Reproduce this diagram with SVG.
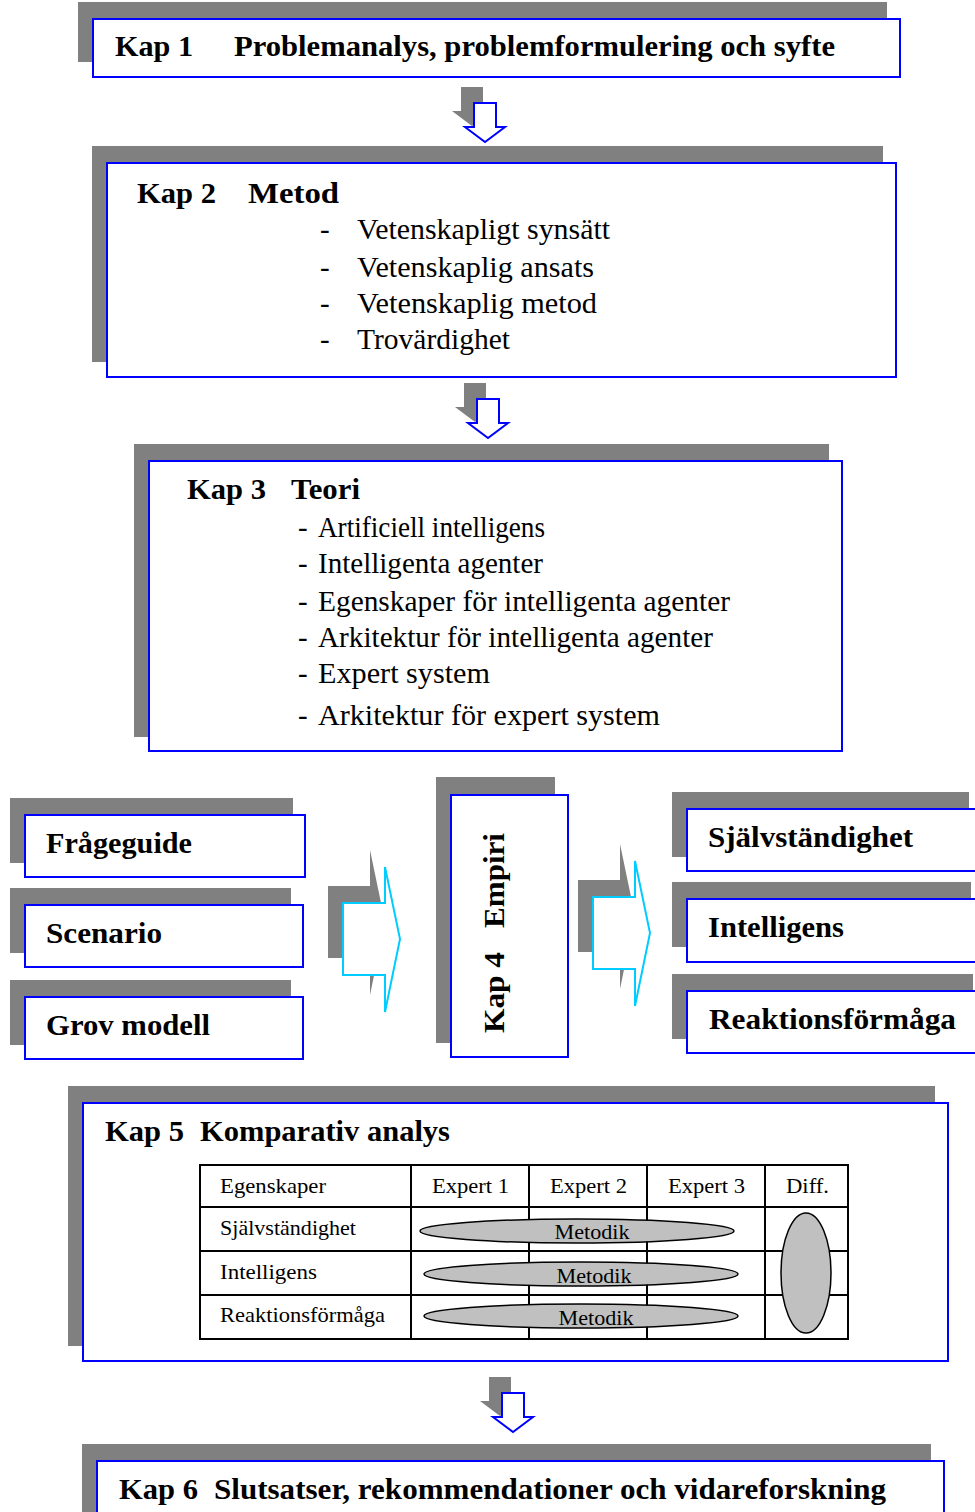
<svg xmlns="http://www.w3.org/2000/svg" width="975" height="1512" viewBox="0 0 975 1512">
<style>
.sh{fill:#808080}
.bx{fill:#fff;stroke:#0000FF;stroke-width:2}
.hb{font-family:'Liberation Serif','Times New Roman',Tinos,serif;font-weight:bold;font-size:30px;fill:#000}
.it{font-family:'Liberation Serif','Times New Roman',Tinos,serif;font-size:29px;fill:#000}
.tb{font-family:'Liberation Serif','Times New Roman',Tinos,serif;font-size:21px;fill:#000}
.tl{stroke:#000;stroke-width:2;fill:none}
.el{fill:#C0C0C0;stroke:#000;stroke-width:1.5}
.sa{fill:#808080}
.ba{fill:#fff;stroke:#0000FF;stroke-width:2}
.ca{fill:#fff;stroke:#00CCFF;stroke-width:2}
</style>
<defs>
<path id="sarrow" d="M0,0 H22 V24 H31 L11,39 L-9,24 H0 Z"/>
<path id="barrow" d="M0,36 H42 V0 L57,72 L42,145 V108 H0 Z"/>
</defs>

<g id="kap1">
<rect class="sh" x="78" y="2" width="809" height="60"/>
<rect class="bx" x="93" y="19" width="807" height="58"/>
<text class="hb" x="115" y="56" textLength="78" lengthAdjust="spacingAndGlyphs">Kap 1</text>
<text class="hb" x="234" y="56" textLength="601" lengthAdjust="spacingAndGlyphs">Problemanalys, problemformulering och syfte</text>
</g>

<g id="kap2">
<rect class="sh" x="92" y="146" width="791" height="216"/>
<rect class="bx" x="107" y="163" width="789" height="214"/>
<text class="hb" x="137" y="203" textLength="79" lengthAdjust="spacingAndGlyphs">Kap 2</text>
<text class="hb" x="248" y="203" textLength="91" lengthAdjust="spacingAndGlyphs">Metod</text>
<text class="it" x="320" y="239">-</text>
<text class="it" x="357" y="239" textLength="253" lengthAdjust="spacingAndGlyphs">Vetenskapligt synsätt</text>
<text class="it" x="320" y="277">-</text>
<text class="it" x="357" y="277" textLength="237" lengthAdjust="spacingAndGlyphs">Vetenskaplig ansats</text>
<text class="it" x="320" y="313">-</text>
<text class="it" x="357" y="313" textLength="240" lengthAdjust="spacingAndGlyphs">Vetenskaplig metod</text>
<text class="it" x="320" y="349">-</text>
<text class="it" x="357" y="349" textLength="153" lengthAdjust="spacingAndGlyphs">Trovärdighet</text>
</g>

<g id="kap3">
<rect class="sh" x="134" y="444" width="695" height="293"/>
<rect class="bx" x="149" y="461" width="693" height="290"/>
<text class="hb" x="187" y="499" textLength="79" lengthAdjust="spacingAndGlyphs">Kap 3</text>
<text class="hb" x="291" y="499" textLength="69" lengthAdjust="spacingAndGlyphs">Teori</text>
<text class="it" x="298" y="537">-</text>
<text class="it" x="318" y="537" textLength="227" lengthAdjust="spacingAndGlyphs">Artificiell intelligens</text>
<text class="it" x="298" y="573">-</text>
<text class="it" x="318" y="573" textLength="225" lengthAdjust="spacingAndGlyphs">Intelligenta agenter</text>
<text class="it" x="298" y="611">-</text>
<text class="it" x="318" y="611" textLength="412" lengthAdjust="spacingAndGlyphs">Egenskaper för intelligenta agenter</text>
<text class="it" x="298" y="647">-</text>
<text class="it" x="318" y="647" textLength="395" lengthAdjust="spacingAndGlyphs">Arkitektur för intelligenta agenter</text>
<text class="it" x="298" y="683">-</text>
<text class="it" x="318" y="683" textLength="172" lengthAdjust="spacingAndGlyphs">Expert system</text>
<text class="it" x="298" y="725">-</text>
<text class="it" x="318" y="725" textLength="342" lengthAdjust="spacingAndGlyphs">Arkitektur för expert system</text>
</g>

<g id="frageguide">
<rect class="sh" x="10" y="798" width="283" height="65"/>
<rect class="bx" x="25" y="815" width="280" height="62"/>
<text class="hb" x="46" y="853" textLength="146" lengthAdjust="spacingAndGlyphs">Frågeguide</text>
</g>
<g id="scenario">
<rect class="sh" x="10" y="888" width="281" height="65"/>
<rect class="bx" x="25" y="905" width="278" height="62"/>
<text class="hb" x="46" y="943" textLength="116" lengthAdjust="spacingAndGlyphs">Scenario</text>
</g>
<g id="grovmodell">
<rect class="sh" x="10" y="980" width="281" height="65"/>
<rect class="bx" x="25" y="997" width="278" height="62"/>
<text class="hb" x="46" y="1035" textLength="164" lengthAdjust="spacingAndGlyphs">Grov modell</text>
</g>

<g id="kap4">
<rect class="sh" x="436" y="777" width="119" height="266"/>
<rect class="bx" x="451" y="795" width="117" height="262"/>
<g transform="translate(504,1033) rotate(-90)">
<text class="hb" x="0" y="0" textLength="81" lengthAdjust="spacingAndGlyphs">Kap 4</text>
<text class="hb" x="105" y="0" textLength="95" lengthAdjust="spacingAndGlyphs">Empiri</text>
</g>
</g>

<g id="sjalvstandighet">
<rect class="sh" x="672" y="792" width="297" height="65"/>
<rect class="bx" x="687" y="809" width="300" height="62"/>
<text class="hb" x="708" y="847" textLength="205" lengthAdjust="spacingAndGlyphs">Självständighet</text>
</g>
<g id="intelligens">
<rect class="sh" x="672" y="882" width="299" height="65"/>
<rect class="bx" x="687" y="899" width="300" height="63"/>
<text class="hb" x="708" y="937" textLength="136" lengthAdjust="spacingAndGlyphs">Intelligens</text>
</g>
<g id="reaktionsformaga">
<rect class="sh" x="672" y="974" width="301" height="65"/>
<rect class="bx" x="687" y="991" width="300" height="62"/>
<text class="hb" x="709" y="1029" textLength="247" lengthAdjust="spacingAndGlyphs">Reaktionsförmåga</text>
</g>

<g id="kap5">
<rect class="sh" x="68" y="1086" width="867" height="260"/>
<rect class="bx" x="83" y="1103" width="865" height="258"/>
<text class="hb" x="105" y="1141" textLength="79" lengthAdjust="spacingAndGlyphs">Kap 5</text>
<text class="hb" x="200" y="1141" textLength="250" lengthAdjust="spacingAndGlyphs">Komparativ analys</text>
<g id="table">
<rect class="tl" x="200" y="1165" width="648" height="174"/>
<line class="tl" x1="200" y1="1207" x2="848" y2="1207"/>
<line class="tl" x1="200" y1="1251" x2="848" y2="1251"/>
<line class="tl" x1="200" y1="1295" x2="848" y2="1295"/>
<line class="tl" x1="411" y1="1165" x2="411" y2="1339"/>
<line class="tl" x1="529" y1="1165" x2="529" y2="1339"/>
<line class="tl" x1="647" y1="1165" x2="647" y2="1339"/>
<line class="tl" x1="765" y1="1165" x2="765" y2="1339"/>
<text class="tb" x="220" y="1193" textLength="106" lengthAdjust="spacingAndGlyphs">Egenskaper</text>
<text class="tb" x="432" y="1193" textLength="77" lengthAdjust="spacingAndGlyphs">Expert 1</text>
<text class="tb" x="550" y="1193" textLength="77" lengthAdjust="spacingAndGlyphs">Expert 2</text>
<text class="tb" x="668" y="1193" textLength="77" lengthAdjust="spacingAndGlyphs">Expert 3</text>
<text class="tb" x="786" y="1193" textLength="43" lengthAdjust="spacingAndGlyphs">Diff.</text>
<text class="tb" x="220" y="1235" textLength="136" lengthAdjust="spacingAndGlyphs">Självständighet</text>
<text class="tb" x="220" y="1279" textLength="97" lengthAdjust="spacingAndGlyphs">Intelligens</text>
<text class="tb" x="220" y="1322" textLength="165" lengthAdjust="spacingAndGlyphs">Reaktionsförmåga</text>
<ellipse class="el" cx="577" cy="1231" rx="157" ry="12"/>
<ellipse class="el" cx="581" cy="1274" rx="157" ry="12"/>
<ellipse class="el" cx="581" cy="1316" rx="157" ry="12"/>
<ellipse class="el" cx="806" cy="1273" rx="25" ry="60"/>
<text class="tb" x="592" y="1239" text-anchor="middle" textLength="75" lengthAdjust="spacingAndGlyphs">Metodik</text>
<text class="tb" x="594" y="1283" text-anchor="middle" textLength="75" lengthAdjust="spacingAndGlyphs">Metodik</text>
<text class="tb" x="596" y="1325" text-anchor="middle" textLength="75" lengthAdjust="spacingAndGlyphs">Metodik</text>
</g>
</g>

<g id="kap6">
<rect class="sh" x="82" y="1444" width="849" height="80"/>
<rect class="bx" x="97" y="1461" width="847" height="70"/>
<text class="hb" x="119" y="1499" textLength="79" lengthAdjust="spacingAndGlyphs">Kap 6</text>
<text class="hb" x="214" y="1499" textLength="672" lengthAdjust="spacingAndGlyphs">Slutsatser, rekommendationer och vidareforskning</text>
</g>

<g id="connectors">
<use href="#sarrow" class="sa" transform="translate(461,87)"/>
<use href="#sarrow" class="ba" transform="translate(474,103)"/>
<use href="#sarrow" class="sa" transform="translate(464,383)"/>
<use href="#sarrow" class="ba" transform="translate(477,399)"/>
<use href="#sarrow" class="sa" transform="translate(489,1377)"/>
<use href="#sarrow" class="ba" transform="translate(502,1393)"/>
<use href="#barrow" class="sa" transform="translate(328,850)"/>
<use href="#barrow" class="ca" transform="translate(343,867)"/>
<use href="#barrow" class="sa" transform="translate(578,844)"/>
<use href="#barrow" class="ca" transform="translate(593,861)"/>
</g>
</svg>
